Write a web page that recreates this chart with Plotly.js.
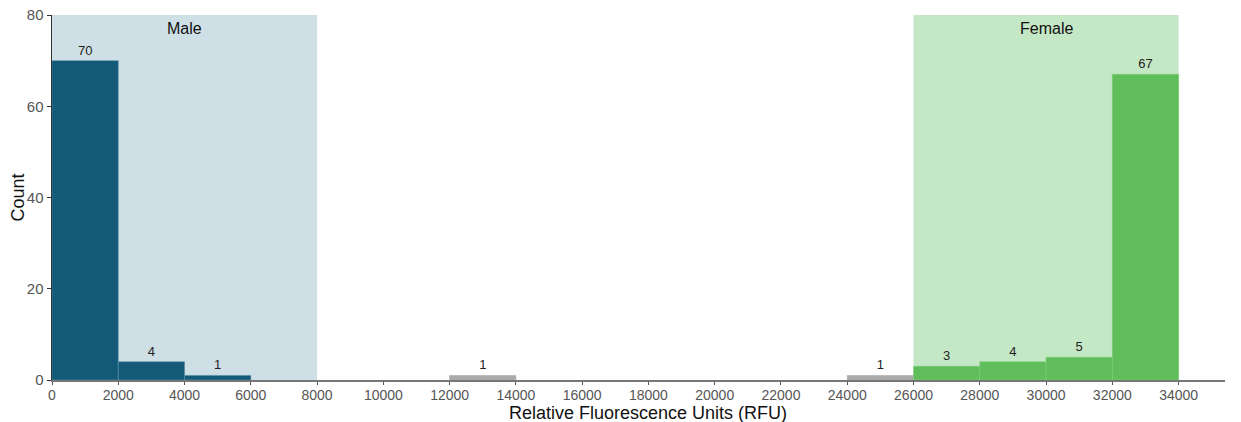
<!DOCTYPE html>
<html><head><meta charset="utf-8">
<script src="https://cdn.plot.ly/plotly-3.0.1.min.js"></script>
<style>html,body{margin:0;padding:0;background:#fff;}#chart{width:1241px;height:422px;}</style>
</head><body><div id="chart"></div>
<script>
const binWidth = 2000;
const maleBins = [1000, 3000, 5000];
const maleCounts = [70, 4, 1];
const otherBins = [13000, 25000];
const otherCounts = [1, 1];
const femaleBins = [27000, 29000, 31000, 33000];
const femaleCounts = [3, 4, 5, 67];
const regionNames = ["Male", "Female"];
const regionStart = [0, 26000];
const regionEnd = [8000, 34000];
const xTitle = 'Relative Fluorescence Units (RFU)';
const yTitle = 'Count';
const xTicks = [];
for (let v = 0; v <= 34000; v += 2000) xTicks.push(v);

const F = 'Liberation Sans, Arial, sans-serif';
function barTrace(x, y, color, lineColor) {
  return {
    type: 'bar', x: x, y: y, width: x.map(() => binWidth),
    marker: {color: color, line: {color: lineColor, width: 0.6}},
    text: y.map(String), textposition: 'outside', cliponaxis: false,
    textfont: {family: F, size: 13, color: '#222'},
    hoverinfo: 'x+y', showlegend: false
  };
}
const traces = [
  barTrace(maleBins, maleCounts, '#135a78', '#5b8fa8'),
  barTrace(otherBins, otherCounts, '#aaaaaa', '#aaaaaa'),
  barTrace(femaleBins, femaleCounts, '#5fbe5a', '#7ccc77')
];
const regionColors = ['#cfdfe6', '#c4e8c6'];
const shapes = regionNames.map((n, i) => ({
  type: 'rect', xref: 'x', yref: 'y', x0: regionStart[i], x1: regionEnd[i], y0: 0, y1: 80,
  fillcolor: regionColors[i], line: {width: 0}, layer: 'below'
}));
const annotations = regionNames.map((n, i) => ({
  xref: 'x', yref: 'paper', x: (regionStart[i] + regionEnd[i]) / 2, y: 1, yanchor: 'top', yshift: -3,
  text: n, showarrow: false, font: {family: F, size: 16, color: '#111'}
}));
annotations.push({
  xref: 'paper', yref: 'paper', x: (648 - 52) / 1173, y: 0, yanchor: 'middle', yshift: -33,
  text: xTitle, showarrow: false, font: {family: F, size: 18, color: '#111'}
});
annotations.push({
  xref: 'paper', yref: 'paper', x: 0, xanchor: 'center', xshift: -35, y: 0.5, textangle: -90,
  text: yTitle, showarrow: false, font: {family: F, size: 18, color: '#111'}
});
const layout = {
  width: 1241, height: 422,
  margin: {l: 52, r: 16, t: 15, b: 42},
  paper_bgcolor: '#fff', plot_bgcolor: '#fff',
  bargap: 0, barmode: 'overlay',
  shapes: shapes, annotations: annotations,
  xaxis: {
    range: [0, 35400], tickvals: xTicks, ticktext: xTicks.map(String),
    showgrid: false, zeroline: false, showline: true, linecolor: '#777', linewidth: 2,
    ticks: 'outside', ticklen: 3, tickcolor: '#555', tickwidth: 1, ticklabelstandoff: -2,
    tickfont: {family: F, size: 14, color: '#555'}
  },
  yaxis: {
    range: [0, 80], tickvals: [0, 20, 40, 60, 80],
    showgrid: false, zeroline: false, showline: true, linecolor: '#333', linewidth: 1.5,
    ticks: 'outside', ticklen: 4, tickcolor: '#333', tickwidth: 1,
    tickfont: {family: F, size: 15, color: '#555'}
  }
};
Plotly.newPlot('chart', traces, layout, {displayModeBar: false, staticPlot: true});
</script></body></html>
